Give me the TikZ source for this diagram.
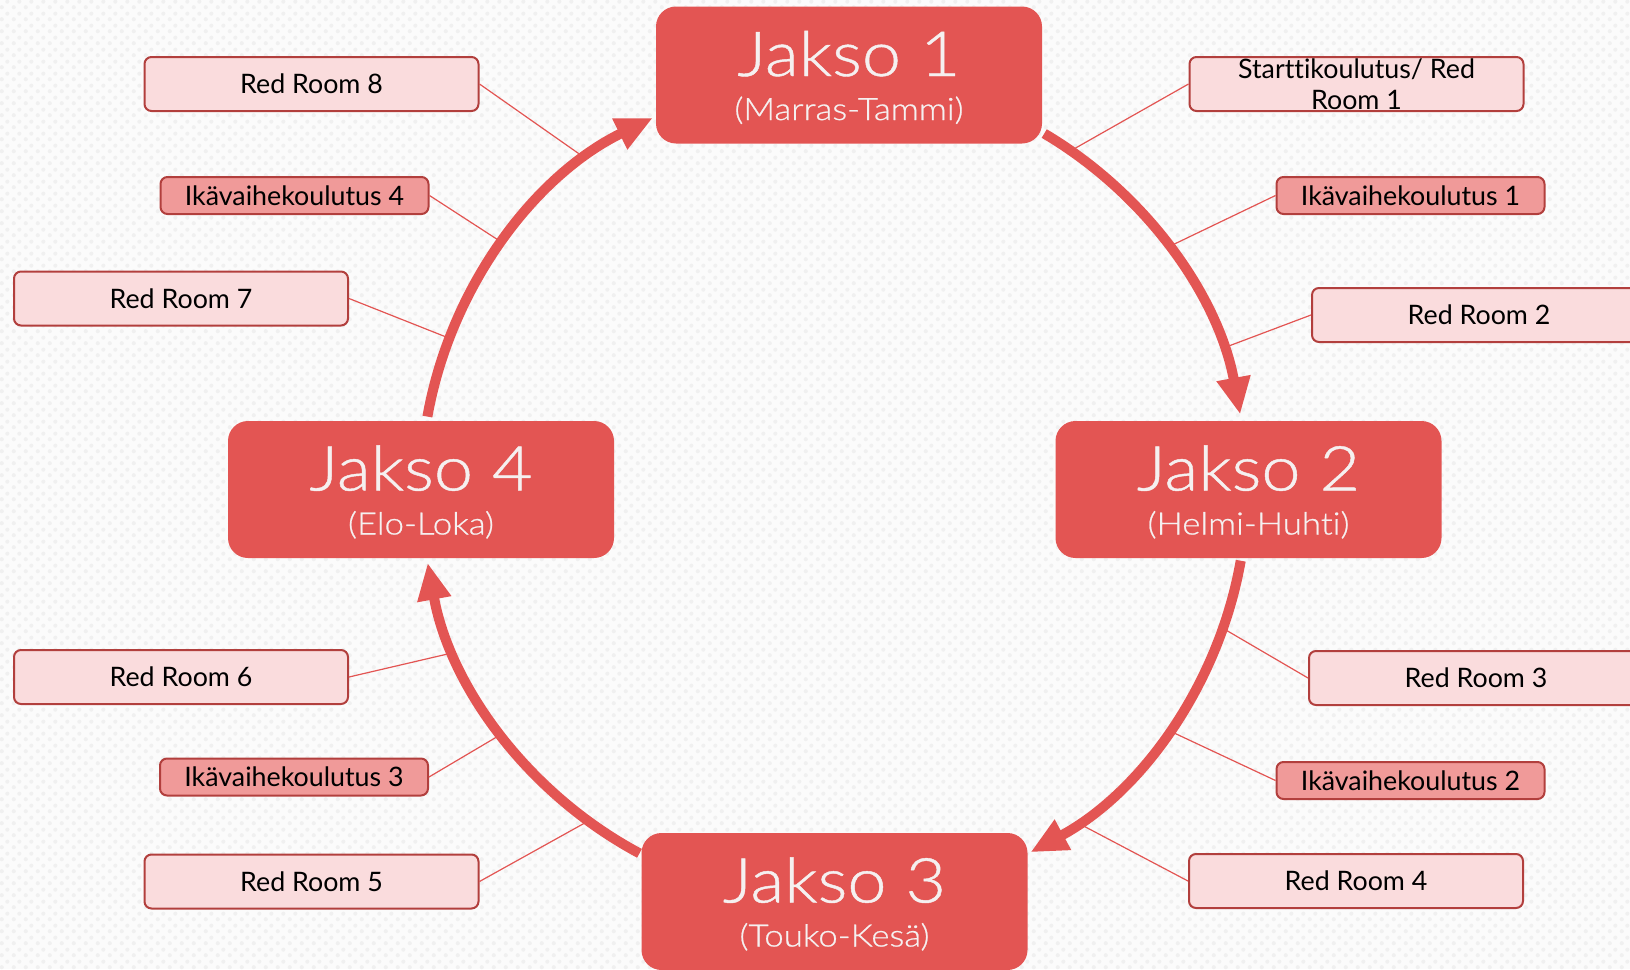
\documentclass[tikz,border=0pt]{standalone}
\usepackage{fontspec}
\setmainfont{Lato}[Ligatures=NoCommon]
\newfontfamily\jfont{Lato Light}[Ligatures=NoCommon, FakeStretch=1.13, FakeBold=0.7]
\usetikzlibrary{arrows.meta,calc,patterns.meta}
\definecolor{jred}{HTML}{E35553}
\definecolor{jtext}{HTML}{F5F0F0}
\definecolor{pinkfill}{HTML}{FADCDD}
\definecolor{ikafill}{HTML}{F09A99}
\definecolor{boxline}{HTML}{B23F3D}
\definecolor{bgcol}{HTML}{FBFBFB}
\definecolor{dotcol}{HTML}{F0F0F0}
\tikzdeclarepattern{
  name=bgdots,
  type=colored,
  bounding box={(0pt,0pt) and (12pt,12pt)},
  tile size={(12pt,12pt)},
  code={
    \fill[dotcol] (3pt,3pt) circle (2.2pt);
    \fill[dotcol] (9pt,9pt) circle (2.2pt);
  }
}
\tikzset{
  bigbox/.style={fill=jred, rounded corners=20pt, minimum width=386pt, minimum height=137pt, inner sep=0pt},
  bigtitle/.style={text=jtext, font=\jfont\fontsize{62}{62}\selectfont, anchor=base, inner sep=0pt},
  bigsub/.style={text=jtext, font=\jfont\fontsize{30.8}{31}\selectfont, anchor=base, inner sep=0pt},
  roombox/.style={fill=pinkfill, draw=boxline, line width=2pt, rounded corners=7pt, minimum width=334pt, minimum height=54pt, inner sep=0pt, font=\fontsize{26.8}{31}\selectfont, text=black, align=center},
  ikabox/.style={roombox, fill=ikafill, minimum width=268pt, minimum height=37pt},
  link/.style={draw=jred, line width=1.2pt},
  cyc/.style={draw=jred, line width=10pt, -{Triangle[length=37pt,width=32pt]}}
}
\begin{document}
\begin{tikzpicture}[x=1pt,y=-1pt]
\useasboundingbox (0,0) rectangle (1630,969);
\fill[bgcol] (0,0) rectangle (1630,969);
\fill[pattern=bgdots] (0,0) rectangle (1630,969);

\coordinate (O) at (834,489);

% small boxes
\node[roombox] (rr8) at (311.5,84) {Red Room 8};
\node[ikabox] (ik4) at (294.5,195.5) {Ikävaihekoulutus 4};
\node[roombox] (rr7) at (181,298.5) {Red Room 7};
\node[roombox] (rr6) at (181,677) {Red Room 6};
\node[ikabox] (ik3) at (294,777) {Ikävaihekoulutus 3};
\node[roombox] (rr5) at (311.5,881.5) {Red Room 5};
\node[roombox] (rr1) at (1356.5,84) {Starttikoulutus/ Red\\Room 1};
\node[ikabox] (ik1) at (1410.5,195.5) {Ikävaihekoulutus 1};
\node[roombox] (rr2) at (1479,315) {Red Room 2};
\node[roombox] (rr3) at (1476,678) {Red Room 3};
\node[ikabox] (ik2) at (1410.5,780.5) {Ikävaihekoulutus 2};
\node[roombox] (rr4) at (1356,881) {Red Room 4};

% points on the circle
\coordinate (p8) at ($(O)+(126.9:413pt)$);
\coordinate (q4) at ($(O)+(143.4:413pt)$);
\coordinate (p7) at ($(O)+(158.6:413pt)$);
\coordinate (p6) at ($(O)+(203.3:413pt)$);
\coordinate (q3) at ($(O)+(216.4:413pt)$);
\coordinate (p5) at ($(O)+(233.5:413pt)$);
\coordinate (p1) at ($(O)+(55.0:413pt)$);
\coordinate (q1) at ($(O)+(35.9:413pt)$);
\coordinate (p2) at ($(O)+(19.9:413pt)$);
\coordinate (p3) at ($(O)+(-19.7:413pt)$);
\coordinate (q2) at ($(O)+(-35.8:413pt)$);
\coordinate (p4) at ($(O)+(-53.9:413pt)$);

\draw[link] (rr8.east) -- (p8);
\draw[link] (ik4.east) -- (q4);
\draw[link] (rr7.east) -- (p7);
\draw[link] (rr6.east) -- (p6);
\draw[link] (ik3.east) -- (q3);
\draw[link] (rr5.east) -- (p5);
\draw[link] (rr1.west) -- (p1);
\draw[link] (ik1.west) -- (q1);
\draw[link] (rr2.west) -- (p2);
\draw[link] (rr3.west) -- (p3);
\draw[link] (ik2.west) -- (q2);
\draw[link] (rr4.west) -- (p4);

% cycle arrows
\coordinate (a1) at ($(O)+(59.4:413pt)$);
\coordinate (a2) at ($(O)+(-10.0:413pt)$);
\coordinate (a3) at ($(O)+(-118.1:413pt)$);
\coordinate (a4) at ($(O)+(169.9:413pt)$);
\draw[cyc] (a1) arc[start angle=59.4, end angle=10.4, radius=413pt];
\draw[cyc] (a2) arc[start angle=-10.0, end angle=-61.6, radius=413pt];
\draw[cyc] (a3) arc[start angle=-118.1, end angle=-169.7, radius=413pt];
\draw[cyc] (a4) arc[start angle=169.9, end angle=116.0, radius=413pt];

% big boxes
\node[bigbox] (j1) at (849,75) {};
\node[bigbox] (j2) at (1248.5,489.5) {};
\node[bigbox] (j3) at (834.5,901.5) {};
\node[bigbox] (j4) at (421,489.5) {};
\node[bigtitle] (j1a) at ($(j1.center)+(0,1)$) {Jakso 1};
\node[bigsub] (j1b) at ($(j1.center)+(0,45)$) {(Marras-Tammi)};
\node[bigtitle] (j2a) at ($(j2.center)+(0,1)$) {Jakso 2};
\node[bigsub] (j2b) at ($(j2.center)+(0,45)$) {(Helmi-Huhti)};
\node[bigtitle] (j3a) at ($(j3.center)+(0,1)$) {Jakso 3};
\node[bigsub] (j3b) at ($(j3.center)+(0,45)$) {(Touko-Kesä)};
\node[bigtitle] (j4a) at ($(j4.center)+(0,1)$) {Jakso 4};
\node[bigsub] (j4b) at ($(j4.center)+(0,45)$) {(Elo-Loka)};
\end{tikzpicture}
\end{document}
